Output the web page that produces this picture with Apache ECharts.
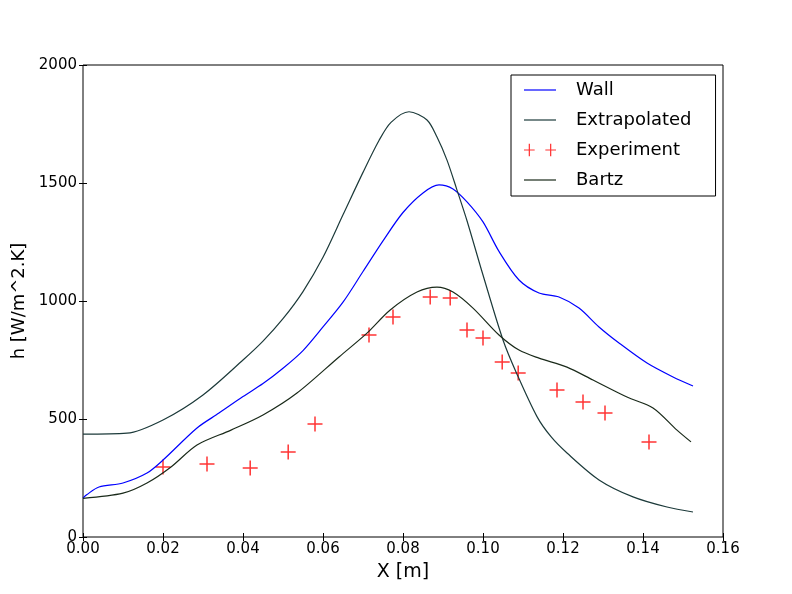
<!DOCTYPE html>
<html>
<head>
<meta charset="utf-8">
<script src="https://cdn.jsdelivr.net/npm/echarts@6/dist/echarts.min.js"></script>
<style>
  html, body { margin: 0; padding: 0; background: #fff; }
  #chart { width: 792px; height: 594px; }
</style>
</head>
<body>
<div id="chart"></div>
<script>
// values
var wallX = [0.0, 0.001, 0.004, 0.01, 0.016, 0.02, 0.0285, 0.034, 0.04, 0.045, 0.05, 0.055, 0.06, 0.065, 0.07, 0.075, 0.08, 0.085, 0.089, 0.0925, 0.096, 0.1, 0.104, 0.109, 0.114, 0.119, 0.124, 0.129, 0.134, 0.141, 0.1475, 0.1525];
var wallY = [165, 180, 212, 229, 271, 326, 462, 525, 595, 650, 715, 790, 890, 995, 1125, 1255, 1375, 1458, 1492, 1475, 1420, 1335, 1210, 1089, 1034, 1017, 970, 890, 822, 737, 678, 640];

var extraX = [0.0, 0.011, 0.02, 0.03, 0.04, 0.045, 0.05, 0.055, 0.06, 0.065, 0.07, 0.074, 0.077, 0.0815, 0.086, 0.0885, 0.091, 0.0935, 0.096, 0.1, 0.105, 0.1085, 0.1135, 0.117, 0.121, 0.129, 0.1375, 0.146, 0.1525];
var extraY = [436, 440, 496, 602, 750, 830, 925, 1040, 1185, 1365, 1545, 1680, 1757, 1802, 1767, 1695, 1597, 1470, 1340, 1110, 835, 690, 510, 425, 356, 242, 170, 127, 106];

var bartzX = [0.0, 0.01, 0.016, 0.022, 0.0285, 0.037, 0.045, 0.0535, 0.064, 0.071, 0.0768, 0.0835, 0.0885, 0.0925, 0.0975, 0.104, 0.109, 0.114, 0.121, 0.1275, 0.136, 0.1425, 0.1485, 0.152];
var bartzY = [164, 186, 229, 297, 390, 453, 517, 610, 763, 864, 962, 1038, 1059, 1038, 970, 856, 792, 758, 720, 665, 593, 547, 453, 403];

var expX = [0.02, 0.031, 0.0418, 0.0513, 0.058, 0.0715, 0.0775, 0.0868, 0.0918, 0.096, 0.1, 0.1048, 0.1088, 0.1185, 0.125, 0.1305, 0.1415];
var expY = [297, 309, 292, 360, 479, 856, 932, 1017, 1013, 877, 843, 742, 695, 623, 572, 525, 403];

function pairs(xs, ys) {
  return xs.map(function (x, i) { return [x, ys[i]]; });
}

var font = 'DejaVu Sans';
var plusPath = 'path://M0,6.3 H14 V7.7 H0Z M6.3,0 H7.7 V14 H6.3Z';
var linePath = 'path://M0,0 H32 V1.2 H0Z';
var twoPlus = 'path://M0,6.3 H12 V7.7 H0Z M5.3,0 H6.7 V14 H5.3Z M24,6.3 H36 V7.7 H24Z M29.3,0 H30.7 V14 H29.3Z';

var chart = echarts.init(document.getElementById('chart'));

var tick = { inside: true, length: 4, lineStyle: { color: '#000' } };

var option = {
  animation: false,
  backgroundColor: '#fff',
  grid: {
    left: 83, right: 69, top: 65, bottom: 57,
    show: true, borderColor: '#000', borderWidth: 1, backgroundColor: 'transparent'
  },
  legend: {
    orient: 'vertical',
    left: 511, top: 75,
    padding: [6, 24, 7, 13],
    itemGap: 12,
    itemWidth: 32, itemHeight: 18,
    borderColor: '#000', borderWidth: 1,
    backgroundColor: '#fff',
    textStyle: { fontFamily: font, fontSize: 18, color: '#000', padding: [0, 0, 0, 15] },
    data: [
      { name: 'Wall', icon: linePath },
      { name: 'Extrapolated', icon: linePath },
      { name: 'Experiment', icon: twoPlus },
      { name: 'Bartz', icon: linePath }
    ]
  },
  xAxis: [{
    type: 'value', min: 0, max: 0.16, interval: 0.02,
    name: 'X [m]', nameLocation: 'middle', nameGap: 26,
    nameTextStyle: { fontFamily: font, fontSize: 19, color: '#000' },
    axisLine: { show: false },
    axisTick: tick,
    axisLabel: {
      fontFamily: font, fontSize: 15, color: '#000', margin: 5,
      formatter: function (v) { return v.toFixed(2); }
    },
    splitLine: { show: false }
  }, {
    type: 'value', min: 0, max: 0.16, interval: 0.02, position: 'top',
    axisLine: { show: false }, axisTick: tick,
    axisLabel: { show: false }, splitLine: { show: false }
  }],
  yAxis: [{
    type: 'value', min: 0, max: 2000, interval: 500,
    name: 'h [W/m^2.K]', nameLocation: 'middle', nameGap: 54,
    nameTextStyle: { fontFamily: font, fontSize: 18, color: '#000' },
    axisLine: { show: false },
    axisTick: tick,
    axisLabel: {
      fontFamily: font, fontSize: 15, color: '#000', margin: 6,
      formatter: function (v) { return String(v); }
    },
    splitLine: { show: false }
  }, {
    type: 'value', min: 0, max: 2000, interval: 500, position: 'right',
    axisLine: { show: false }, axisTick: tick,
    axisLabel: { show: false }, splitLine: { show: false }
  }],
  series: [
    {
      name: 'Wall', type: 'line', color: '#0000ff',
      data: pairs(wallX, wallY), smooth: 0.3, showSymbol: false,
      lineStyle: { width: 1.2, color: '#0000ff' }
    },
    {
      name: 'Extrapolated', type: 'line', color: '#1c3a3a',
      data: pairs(extraX, extraY), smooth: 0.3, showSymbol: false,
      lineStyle: { width: 1.2, color: '#1c3a3a' }
    },
    {
      name: 'Experiment', type: 'scatter', color: '#ff0000',
      data: pairs(expX, expY), symbol: plusPath, symbolSize: 15,
      itemStyle: { color: '#ff0000' }
    },
    {
      name: 'Bartz', type: 'line', color: '#1a2a1a',
      data: pairs(bartzX, bartzY), smooth: 0.3, showSymbol: false,
      lineStyle: { width: 1.2, color: '#1a2a1a' }
    }
  ]
};

chart.setOption(option);
</script>
</body>
</html>
